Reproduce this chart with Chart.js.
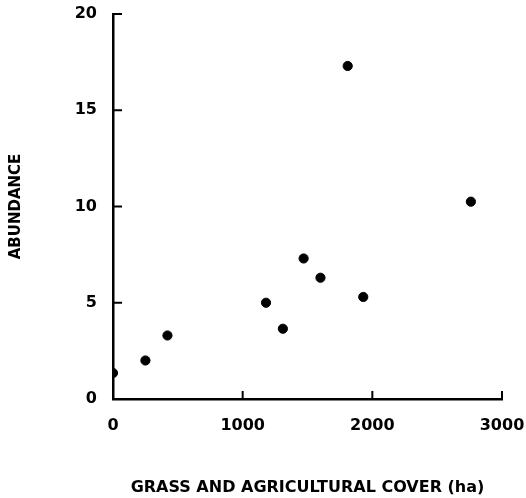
<!DOCTYPE html>
<html>
<head>
<meta charset="utf-8">
<script src="https://cdn.jsdelivr.net/npm/chart.js@4"></script>
<style>
  html, body { margin: 0; padding: 0; background: #fff; }
  #wrap { width: 526px; height: 498px; }
</style>
</head>
<body>
<div id="wrap"><canvas id="chart_div" width="526" height="498"></canvas></div>
<script>
// values
var coverHa   = [0, 250, 420, 1180, 1310, 1470, 1600, 1930, 1810, 2760];
var abundance = [1.35, 2.0, 3.3, 5.0, 3.65, 7.3, 6.3, 5.3, 17.3, 10.25];
var xTicks = [0, 1000, 2000, 3000];
var yTicks = [0, 5, 10, 15, 20];

var points = coverHa.map(function(x, i){ return {x: x, y: abundance[i]}; });

// short ticks pointing into the plot, like the original
var innerTicks = {
    id: 'innerTicks',
    afterDatasetsDraw: function(chart){
        var ctx = chart.ctx, xs = chart.scales.x, ys = chart.scales.y;
        var a = chart.chartArea;
        ctx.save();
        ctx.strokeStyle = '#000';
        ctx.lineWidth = 2;
        yTicks.forEach(function(v){
            var py = ys.getPixelForValue(v);
            ctx.beginPath(); ctx.moveTo(a.left, py); ctx.lineTo(a.left + 9, py); ctx.stroke();
        });
        xTicks.forEach(function(v){
            var px = xs.getPixelForValue(v);
            ctx.beginPath(); ctx.moveTo(px, a.bottom); ctx.lineTo(px, a.bottom - 8); ctx.stroke();
        });
        ctx.restore();
    }
};

// keep the plot box where the original has it
function noPad(s){
    s.paddingTop = 0; s.paddingBottom = 0; s.paddingLeft = 0; s.paddingRight = 0;
}

var labelFont = {family: 'DejaVu Sans', weight: 'bold', size: 16};
var plain = function(v){ return String(v); };

new Chart(document.getElementById('chart_div'), {
    type: 'scatter',
    data: {
        datasets: [{
            data: points,
            backgroundColor: '#000',
            borderColor: '#000',
            pointRadius: 4.6,
            pointHoverRadius: 4.6
        }]
    },
    options: {
        responsive: false,
        animation: false,
        layout: {padding: {left: 0, right: 24, top: 14, bottom: 0}},
        plugins: {legend: {display: false}, tooltip: {enabled: false}},
        scales: {
            x: {
                type: 'linear', min: 0, max: 3000,
                afterFit: function(s){ s.height = 99; noPad(s); },
                afterBuildTicks: function(s){ s.ticks = xTicks.map(function(v){ return {value: v}; }); },
                grid: {drawOnChartArea: false, drawTicks: false},
                border: {color: '#000', width: 2.5},
                ticks: {color: '#000', font: labelFont, padding: 17, maxRotation: 0, callback: plain},
                title: {display: true, text: 'GRASS AND AGRICULTURAL COVER (ha)', color: '#000',
                        font: {family: 'DejaVu Sans', weight: 'bold', size: 16}, padding: {bottom: 1}}
            },
            y: {
                type: 'linear', min: 0, max: 20,
                afterFit: function(s){ s.width = 113; noPad(s); },
                afterBuildTicks: function(s){ s.ticks = yTicks.map(function(v){ return {value: v}; }); },
                grid: {drawOnChartArea: false, drawTicks: false},
                border: {color: '#000', width: 2.5},
                ticks: {color: '#000', font: labelFont, padding: 16, callback: plain},
                title: {display: true, text: 'ABUNDANCE', color: '#000',
                        font: {family: 'DejaVu Sans', weight: 'bold', size: 15}, padding: {top: 7}}
            }
        }
    },
    plugins: [innerTicks]
});
</script>
</body>
</html>
